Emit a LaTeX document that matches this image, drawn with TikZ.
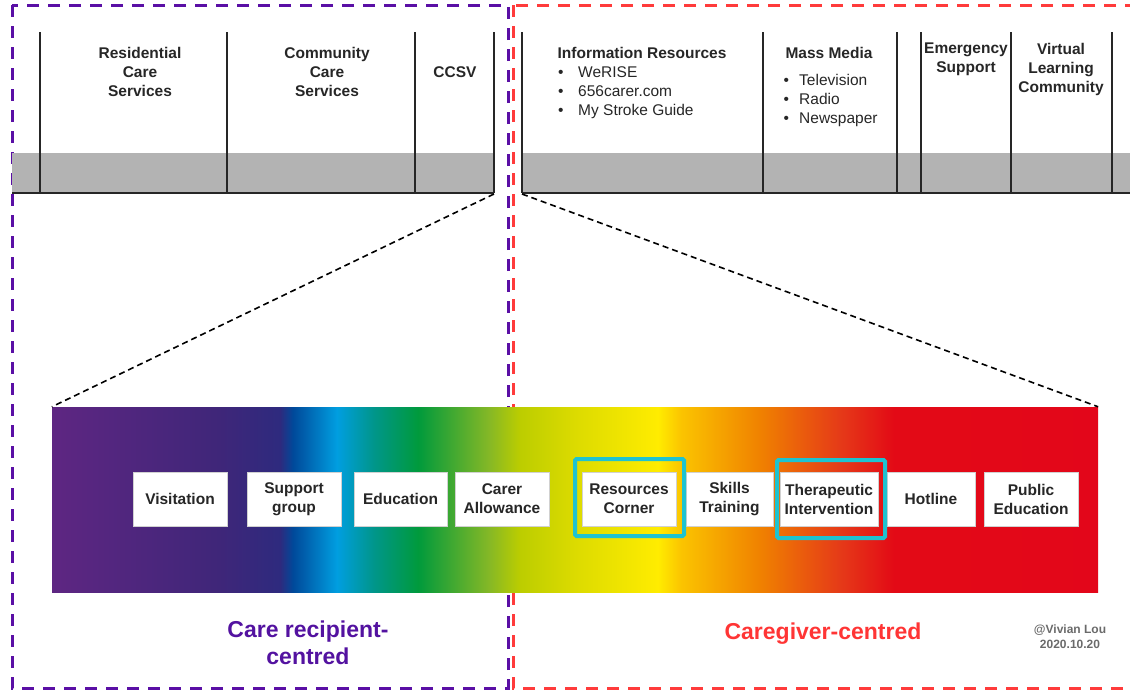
\documentclass[tikz,border=0pt]{standalone}
\usepackage{fontspec}
\setmainfont{Liberation Sans}
\usetikzlibrary{calc}

% frame, band and ring colours
\definecolor{framepurple}{HTML}{5A0FA5}
\definecolor{framered}{HTML}{FF3B3B}
\definecolor{bandgray}{HTML}{B3B3B3}
\definecolor{ringcyan}{HTML}{1EC3D0}
\definecolor{inkdark}{HTML}{262626}
\definecolor{signgray}{HTML}{6A6A6A}
\definecolor{titlepurple}{HTML}{5312A0}
\definecolor{titlered}{HTML}{FF3535}

% spectrum stops
\definecolor{g0}{HTML}{5E2682}
\definecolor{g1}{HTML}{3F2679}
\definecolor{g2}{HTML}{2E2A7E}
\definecolor{g3}{HTML}{00499A}
\definecolor{g4}{HTML}{009EE0}
\definecolor{g5}{HTML}{00968A}
\definecolor{g6}{HTML}{009A3C}
\definecolor{g7}{HTML}{85B826}
\definecolor{g8}{HTML}{BCCD00}
\definecolor{g9}{HTML}{DCDB00}
\definecolor{g10}{HTML}{FFEC00}
\definecolor{g11}{HTML}{FBC400}
\definecolor{g12}{HTML}{F08200}
\definecolor{g13}{HTML}{E53A18}
\definecolor{g14}{HTML}{E30A16}
\definecolor{g15}{HTML}{E3061A}

\pgfdeclarehorizontalshading{spectrumbar}{100bp}{%
  color(0bp)=(g0); color(25bp)=(g0); color(32.98bp)=(g1); color(35.90bp)=(g2);
  color(36.52bp)=(g3); color(38.62bp)=(g4); color(40.39bp)=(g5); color(42.50bp)=(g6);
  color(45.89bp)=(g7); color(47.37bp)=(g8); color(50bp)=(g9); color(53.97bp)=(g10);
  color(55.07bp)=(g11); color(58.80bp)=(g12); color(62.67bp)=(g13); color(65.25bp)=(g14);
  color(75bp)=(g15); color(100bp)=(g15)}

\tikzset{
  groupframe/.style={line width=3pt, dash pattern=on 12pt off 9pt},
  tabline/.style={line width=1.2pt, draw=inkdark},
  zoomline/.style={line width=1.6pt, dash pattern=on 6pt off 4pt, draw=black},
  headtext/.style={font=\fontsize{15.5}{19}\selectfont\bfseries, text=inkdark,
                   align=center, inner sep=0pt},
  listtext/.style={font=\fontsize{15.5}{19}\selectfont, text=inkdark,
                   align=left, inner sep=0pt, anchor=west},
  servicebox/.style={fill=white, draw=black!18, line width=0.8pt, minimum height=54pt,
                     inner sep=0pt, align=center, text=inkdark,
                     font=\fontsize{15.5}{19}\selectfont\bfseries},
  highlight/.style={draw=ringcyan, line width=4pt, rounded corners=1.5pt, inner sep=0pt},
}

\begin{document}
\begin{tikzpicture}[x=1pt, y=-1pt]
\useasboundingbox (0,0) rectangle (1130,691);

% two service groups
\draw[groupframe, framepurple] (12,5) rectangle (508,688);
\draw[groupframe, framered] (513,5) rectangle (1150,688);

% care recipient services table
\fill[bandgray] (12,153) rectangle (494,193);
\foreach \x in {40,227,415,494} \draw[tabline] (\x,32) -- (\x,193);
\draw[tabline] (12,193) -- (494,193);
\coordinate (ltab) at (494,194);

\node[headtext] (residential) at (140,72) {Residential\\Care\\Services};
\node[headtext] (community) at (327,72) {Community\\Care\\Services};
\node[headtext] (ccsv) at (455,72) {CCSV};

% caregiver services table
\fill[bandgray] (522,153) rectangle (1135,193);
\foreach \x in {522,763,897,921,1011,1112} \draw[tabline] (\x,32) -- (\x,193);
\draw[tabline] (522,193) -- (1135,193);
\coordinate (rtab) at (522,194);

\node[headtext] (info) at (642,53) {Information Resources};
\node[listtext] (infolist) at (558,93)
  {\makebox[20pt][l]{\textbullet}WeRISE\\
   \makebox[20pt][l]{\textbullet}656carer.com\\
   \makebox[20pt][l]{\textbullet}My Stroke Guide};
\node[headtext] (media) at (829,53) {Mass Media};
\node[listtext] (medialist) at (783.5,100)
  {\makebox[15.5pt][l]{\textbullet}Television\\
   \makebox[15.5pt][l]{\textbullet}Radio\\
   \makebox[15.5pt][l]{\textbullet}Newspaper};
\node[headtext] (emergency) at (966,59.5) {Emergency\\Support};
\node[headtext] (virtual) at (1061,69) {Virtual\\Learning\\Community};

% spectrum of services
\node[shade, shading=spectrumbar, minimum width=1046pt, minimum height=185pt,
      inner sep=0pt] (bar) at (575,499.5) {};
\draw[zoomline] (ltab) -- (bar.north west);
\draw[zoomline] (rtab) -- (bar.north east);

\node[servicebox, minimum width=94pt] (visit) at (180,499) {Visitation};
\node[servicebox, minimum width=94pt] (support) at (294,499) {Support\\group};
\node[servicebox, minimum width=93pt] (edu) at (400.5,499) {Education};
\node[servicebox, minimum width=94pt] (allow) at (502,499) {Carer\\Allowance};
\node[servicebox, minimum width=94pt] (resources) at (629,499) {Resources\\Corner};
\node[servicebox, minimum width=87pt] (skills) at (729.5,499) {Skills\\Training};
\node[servicebox, minimum width=98pt] (therapy) at (829,499) {Therapeutic\\Intervention};
\node[servicebox, minimum width=88pt] (hotline) at (931,499) {Hotline};
\node[servicebox, minimum width=94pt] (public) at (1031,499) {Public\\Education};

\node[highlight, minimum width=109pt, minimum height=77pt] (ringres) at (629.5,497.5) {};
\node[highlight, minimum width=108pt, minimum height=78pt] (ringther) at (831,499) {};

% group titles
\node[font=\fontsize{23}{27}\selectfont\bfseries, text=titlepurple, align=center,
      inner sep=0pt] (recipient) at (308,642.5) {Care recipient-\\centred};
\node[font=\fontsize{23}{27}\selectfont\bfseries, text=titlered,
      inner sep=0pt] (caregiver) at (823,634) {Caregiver-centred};
\node[font=\fontsize{12}{15}\selectfont\bfseries, text=signgray, align=center,
      inner sep=0pt] (sign) at (1070,636.5) {@Vivian Lou\\2020.10.20};
\end{tikzpicture}
\end{document}
